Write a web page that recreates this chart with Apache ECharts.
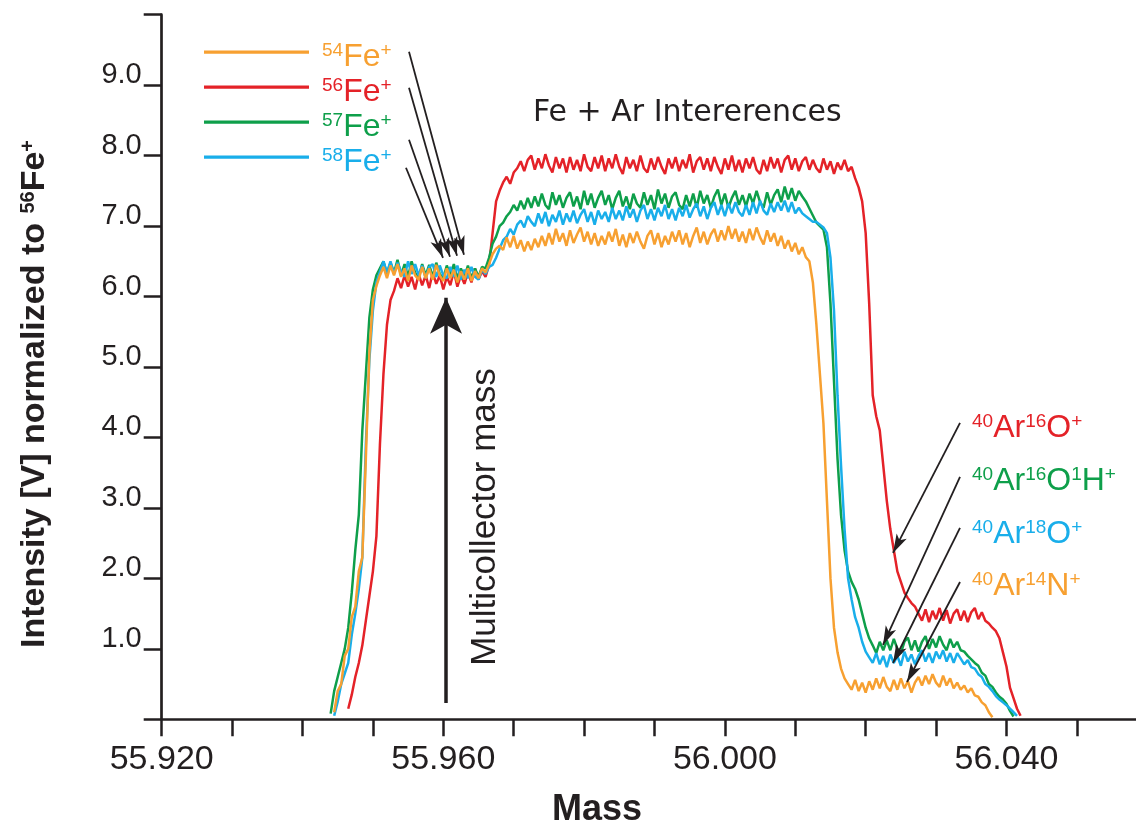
<!DOCTYPE html>
<html>
<head>
<meta charset="utf-8">
<script src="https://cdn.jsdelivr.net/npm/echarts@6/dist/echarts.min.js"></script>
<style>html,body{margin:0;padding:0;background:#fff}#chart{width:1136px;height:827px}</style>
</head>
<body>
<div id="chart"></div>
<script>
// ---- data (mass grid: start + step * index) ----
const massStart = 55.943;
const massStep = 0.0005;

const fe54 = [
 null,null,null,0.1,0.4,0.5,0.9,1.0,1.45,1.6,
 2.1,2.3,3.7,5.2,5.95,6.15,6.3,6.42,6.26,6.44,
 6.3,6.46,6.28,6.4,6.22,6.44,6.3,6.24,6.42,6.26,
 6.4,6.24,6.45,6.3,6.22,6.4,6.26,6.38,6.2,6.36,
 6.24,6.4,6.22,6.36,6.26,6.4,6.34,6.46,6.6,6.68,
 6.72,6.66,6.84,6.7,6.86,6.68,6.8,6.64,6.78,6.66,
 6.82,6.7,6.86,6.72,6.9,6.74,6.96,6.78,6.9,6.72,
 6.94,6.76,6.88,6.98,6.78,6.92,6.74,6.9,6.72,6.86,
 6.74,6.92,6.78,6.96,6.72,6.88,6.7,6.9,6.76,6.92,
 6.78,6.68,6.86,6.94,6.74,6.9,6.7,6.86,6.74,6.92,
 6.78,6.94,6.74,6.9,6.7,6.86,6.98,6.76,6.92,6.74,
 6.88,6.96,6.78,6.94,6.8,7.0,6.82,6.96,6.78,6.92,
 6.76,6.96,6.8,6.98,6.84,6.74,6.94,6.78,6.9,6.72,
 6.86,6.68,6.8,6.64,6.76,6.6,6.7,6.56,6.5,6.2,
 5.6,4.9,4.2,3.1,2.0,1.3,0.95,0.72,0.58,0.5,
 0.42,0.56,0.4,0.52,0.38,0.54,0.42,0.58,0.44,0.6,
 0.46,0.4,0.56,0.42,0.58,0.44,0.54,0.38,0.52,0.6,
 0.48,0.62,0.5,0.64,0.52,0.46,0.62,0.48,0.58,0.44,
 0.52,0.42,0.48,0.38,0.44,0.34,0.32,0.24,0.2,0.1,
 0.03,null,null,null,null,null,null,null,null,null,null
];

const fe56 = [
 null,null,null,null,null,null,null,0.15,0.35,0.6,
 0.8,1.05,1.4,1.75,2.1,2.6,3.9,4.9,5.6,5.95,
 6.08,6.26,6.12,6.3,6.14,6.28,6.1,6.32,6.16,6.3,
 6.12,6.34,6.18,6.3,6.1,6.28,6.16,6.36,6.14,6.3,
 6.18,6.34,6.2,6.4,6.24,6.36,6.28,6.45,6.9,7.35,
 7.5,7.62,7.7,7.6,7.76,7.82,7.92,7.78,7.94,8.0,
 7.8,7.96,7.82,8.02,7.86,7.76,7.98,7.82,7.96,7.76,
 7.98,7.8,7.94,7.78,8.02,7.84,7.78,7.98,7.82,8.0,
 7.78,7.96,7.82,8.02,7.84,7.74,7.98,7.82,7.94,7.78,
 8.0,7.82,7.76,7.96,7.8,7.98,7.84,7.74,7.96,7.82,
 7.98,7.78,7.94,7.82,8.02,7.76,7.92,7.98,7.8,7.96,
 7.78,7.98,7.84,7.74,7.96,7.8,8.0,7.78,7.94,7.76,
 7.96,7.82,7.98,7.8,7.74,7.94,7.78,7.98,7.82,7.96,
 7.76,7.94,8.0,7.8,7.96,7.78,7.92,7.98,7.8,7.94,
 7.82,7.76,7.96,7.8,7.92,7.74,7.9,7.8,7.94,7.78,
 7.84,7.68,7.55,7.35,6.9,5.9,4.6,4.3,4.1,3.6,
 3.1,2.7,2.4,2.1,1.95,1.8,1.72,1.65,1.6,1.5,
 1.4,1.56,1.38,1.54,1.42,1.58,1.4,1.55,1.36,1.5,
 1.56,1.4,1.54,1.38,1.52,1.58,1.42,1.52,1.4,1.36,
 1.3,1.25,1.15,0.95,0.75,0.45,0.3,0.15,0.05,null,null
];

const fe57 = [
 null,null,0.08,0.4,0.6,0.8,1.0,1.3,1.8,2.4,
 2.9,4.1,4.9,5.7,6.1,6.3,6.4,6.5,6.32,6.48,
 6.34,6.52,6.3,6.46,6.28,6.5,6.34,6.26,6.46,6.3,
 6.45,6.28,6.48,6.32,6.26,6.44,6.3,6.46,6.26,6.4,
 6.28,6.44,6.26,6.4,6.28,6.42,6.4,6.55,6.75,6.85,
 7.0,7.05,7.14,7.2,7.3,7.22,7.36,7.24,7.4,7.26,
 7.42,7.28,7.46,7.3,7.24,7.48,7.3,7.44,7.26,7.4,
 7.48,7.28,7.42,7.24,7.5,7.3,7.46,7.26,7.4,7.5,
 7.3,7.44,7.24,7.4,7.5,7.28,7.42,7.24,7.46,7.32,
 7.26,7.48,7.3,7.44,7.24,7.52,7.32,7.46,7.26,7.42,
 7.48,7.3,7.24,7.44,7.28,7.46,7.26,7.5,7.32,7.44,
 7.26,7.42,7.52,7.3,7.46,7.26,7.4,7.5,7.3,7.44,
 7.28,7.46,7.32,7.5,7.34,7.26,7.48,7.3,7.44,7.52,
 7.34,7.56,7.38,7.54,7.36,7.5,7.42,7.35,7.25,7.15,
 7.05,7.0,6.95,6.7,5.9,4.8,3.7,2.9,2.4,2.1,
 1.95,1.85,1.7,1.5,1.3,1.15,1.05,0.94,1.1,0.98,
 1.12,0.98,1.14,1.0,0.94,1.1,1.16,0.98,1.12,0.96,
 1.1,1.18,1.0,1.14,1.02,1.18,1.06,0.98,1.14,1.02,
 1.1,0.98,0.96,0.9,0.85,0.8,0.76,0.66,0.62,0.5,
 0.46,0.38,0.32,0.28,0.22,0.12,0.04,null,null,null,null
];

const fe58 = [
 null,null,null,0.05,0.25,0.5,0.65,0.8,1.2,1.5,
 1.85,2.3,3.9,5.1,5.8,6.2,6.35,6.5,6.34,6.5,
 6.32,6.48,6.36,6.28,6.5,6.32,6.46,6.3,6.44,6.26,
 6.42,6.46,6.28,6.44,6.3,6.26,6.42,6.28,6.44,6.24,
 6.38,6.26,6.42,6.28,6.24,6.38,6.32,6.42,6.45,6.55,
 6.68,6.8,6.85,6.96,6.88,7.02,7.08,6.98,7.14,7.06,
 7.0,7.18,7.04,7.2,7.0,7.16,7.06,7.22,7.02,7.18,
 7.06,7.22,7.04,7.16,7.24,7.06,7.2,7.02,7.22,7.1,
 7.2,7.06,7.26,7.1,7.22,7.08,7.28,7.12,7.24,7.06,
 7.22,7.3,7.1,7.24,7.08,7.26,7.14,7.3,7.1,7.24,
 7.08,7.26,7.14,7.3,7.12,7.24,7.32,7.14,7.28,7.1,
 7.26,7.34,7.16,7.3,7.14,7.32,7.18,7.34,7.2,7.14,
 7.3,7.16,7.34,7.18,7.36,7.22,7.16,7.32,7.2,7.34,
 7.22,7.36,7.2,7.34,7.18,7.26,7.18,7.14,7.1,7.06,
 7.06,7.02,6.98,6.9,6.55,5.8,4.6,3.6,2.7,2.0,
 1.7,1.45,1.3,1.1,0.96,0.88,0.8,0.94,0.78,0.9,
 0.74,0.92,0.8,0.9,0.76,0.96,0.82,0.92,0.78,0.9,
 0.98,0.82,0.94,0.8,0.96,0.86,0.98,0.82,0.94,0.8,
 0.94,0.86,0.78,0.84,0.74,0.72,0.64,0.6,0.5,0.46,
 0.4,0.33,0.28,0.24,0.2,0.15,0.1,0.05,null,null,null
];

const isotopes = ['54', '56', '57', '58'];
const seriesNames = ['54Fe+', '56Fe+', '57Fe+', '58Fe+'];
const xTickValues = [55.92,55.93,55.94,55.95,55.96,55.97,55.98,55.99,56.00,56.01,56.02,56.03,56.04,56.05];
const xLabelValues = [55.92, 55.96, 56.00, 56.04];
const yTickValues = [0,1,2,3,4,5,6,7,8,9,10];
const yLabelValues = [1,2,3,4,5,6,7,8,9];

// annotation arrows [massFrom, intensityFrom, massTo(tip), intensityTo(tip)]
const feArrows = [
  [55.95513, 9.475, 55.96294, 6.592],
  [55.95513, 8.964, 55.96195, 6.578],
  [55.95513, 8.225, 55.96095, 6.564],
  [55.95470, 7.828, 55.95996, 6.550]
];
const arArrows = [
  [56.03340, 4.207, 56.02388, 2.361],
  [56.03340, 3.440, 56.02246, 1.055],
  [56.03340, 2.716, 56.02388, 0.799],
  [56.03340, 1.949, 56.02587, 0.530]
];
const collectorArrow = [55.96039, 0.231, 55.96039, 5.982];

// ---- styling ----
const COLORS = ['#F7A031', '#E42228', '#0E9F4A', '#19AEEA'];
const INK = '#231f20';
const FONT = '"Liberation Sans", Arial, Helvetica, sans-serif';

function toPairs(arr) {
  const out = [];
  arr.forEach((v, i) => { if (v !== null) out.push([+(massStart + i * massStep).toFixed(4), v]); });
  return out;
}

const legendRich = {};
const richKeys = ['a', 'b', 'c', 'd'];
richKeys.forEach((k, i) => {
  legendRich[k + 's'] = { fontSize: 19, lineHeight: 19, verticalAlign: 'top', color: COLORS[i], fontFamily: FONT };
  legendRich[k + 'm'] = { fontSize: 32, lineHeight: 32, color: COLORS[i], fontFamily: FONT };
});

const chart = echarts.init(document.getElementById('chart'), null, { renderer: 'canvas' });

const drawOrder = [1, 2, 3, 0];
const seriesData = [fe54, fe56, fe57, fe58];
const lineSeries = drawOrder.map(i => ({
  type: 'line',
  name: seriesNames[i],
  data: toPairs(seriesData[i]),
  showSymbol: false,
  symbol: 'none',
  color: COLORS[i],
  lineStyle: { color: COLORS[i], width: 2.5 },
  itemStyle: { color: COLORS[i] },
  emphasis: { disabled: true },
  silent: true,
  z: 2
}));

function arrowItems(list, width, size) {
  return list.map(a => [
    { coord: [a[0], a[1]], symbol: 'none', lineStyle: { width: width, color: INK } },
    { coord: [a[2], a[3]], symbol: 'arrow', symbolSize: size, lineStyle: { width: width, color: INK } }
  ]);
}

const annotationSeries = {
  type: 'line',
  name: 'annotations',
  data: [],
  silent: true,
  z: 5,
  markLine: {
    silent: true,
    animation: false,
    symbol: ['none', 'arrow'],
    label: { show: false },
    emphasis: { disabled: true },
    lineStyle: { color: INK, width: 1.7, type: 'solid' },
    data: [].concat(
      arrowItems(feArrows, 1.8, [8.5, 19]),
      arrowItems(arArrows, 1.8, [8.5, 19]),
      arrowItems([collectorArrow], 3.5, [24, 36])
    )
  }
};

function supText(parts) {
  return parts.map(p => '{' + p[0] + '|' + p[1] + '}').join('');
}

function annotationText(y, color, parts) {
  return {
    type: 'text',
    x: 972, y: y,
    silent: true,
    style: {
      text: supText(parts),
      fill: color,
      align: 'left',
      verticalAlign: 'middle',
      fontFamily: FONT,
      fontSize: 32,
      lineHeight: 32,
      rich: {
        s: { fontSize: 19, lineHeight: 19, verticalAlign: 'top', fill: color, fontFamily: FONT },
        m: { fontSize: 32, lineHeight: 32, fill: color, fontFamily: FONT }
      }
    }
  };
}

const option = {
  animation: false,
  backgroundColor: '#ffffff',
  grid: { left: 161.7, right: 0, top: 14.7, bottom: 107.7, containLabel: false, outerBoundsMode: 'none' },
  xAxis: {
    type: 'value',
    min: 55.92,
    max: 56.0584,
    interval: 0.01,
    axisLine: { show: true, onZero: false, lineStyle: { color: INK, width: 2.7 } },
    axisTick: { show: true, length: 17, inside: false, customValues: xTickValues, lineStyle: { color: INK, width: 2.5 } },
    splitLine: { show: false },
    axisLabel: {
      customValues: xLabelValues,
      margin: 23,
      fontSize: 34,
      lineHeight: 34,
      fontFamily: FONT,
      color: INK,
      formatter: v => {
        const k = (v - 55.92) / 0.04;
        return Math.abs(k - Math.round(k)) < 1e-6 ? v.toFixed(3) : '';
      }
    }
  },
  yAxis: {
    type: 'value',
    min: 0,
    max: 10,
    interval: 1,
    axisLine: { show: true, onZero: false, lineStyle: { color: INK, width: 2.7 } },
    axisTick: { show: true, length: 18, inside: false, customValues: yTickValues, lineStyle: { color: INK, width: 2.5 } },
    splitLine: { show: false },
    axisLabel: {
      customValues: yLabelValues,
      margin: 20,
      fontSize: 29,
      lineHeight: 20,
      fontFamily: FONT,
      color: INK,
      verticalAlign: 'bottom',
      formatter: v => (v > 0 && v < 10) ? v.toFixed(1) : ''
    }
  },
  legend: {
    orient: 'vertical',
    left: 199,
    top: 26.2,
    itemWidth: 105,
    itemHeight: 3.3,
    itemGap: -7,
    icon: 'rect',
    selectedMode: false,
    data: seriesNames,
    formatter: name => {
      const i = seriesNames.indexOf(name);
      const k = richKeys[i];
      return '{' + k + 's|' + isotopes[i] + '}{' + k + 'm|Fe}{' + k + 's|+}';
    },
    textStyle: {
      fontSize: 32,
      lineHeight: 32,
      fontFamily: FONT,
      padding: [10, 0, 0, 8],
      rich: legendRich
    }
  },
  graphic: [
    {
      type: 'text', x: 533, y: 113, silent: true,
      style: { text: 'Fe + Ar Intererences', fill: INK, fontFamily: '"DejaVu Sans", sans-serif', fontSize: 30, align: 'left', verticalAlign: 'middle' }
    },
    {
      type: 'text', x: 485, y: 517, rotation: Math.PI / 2, silent: true,
      style: { text: 'Multicollector mass', fill: INK, fontFamily: FONT, fontSize: 35, align: 'center', verticalAlign: 'middle' }
    },
    {
      type: 'text', x: 597, y: 810, silent: true,
      style: { text: 'Mass', fill: INK, fontFamily: FONT, fontWeight: 'bold', fontSize: 36, align: 'center', verticalAlign: 'middle' }
    },
    {
      type: 'text', x: 35, y: 394, rotation: Math.PI / 2, silent: true,
      style: {
        text: 'Intensity [V] normalized to {s|56}Fe{s|+}',
        fill: INK, fontFamily: FONT, fontWeight: 'bold', fontSize: 34, lineHeight: 34,
        align: 'center', verticalAlign: 'middle',
        rich: { s: { fontSize: 20, lineHeight: 20, verticalAlign: 'top', fontWeight: 'bold', fill: INK, fontFamily: FONT } }
      }
    },
    annotationText(428, COLORS[1], [['s','40'],['m','Ar'],['s','16'],['m','O'],['s','+']]),
    annotationText(481, COLORS[2], [['s','40'],['m','Ar'],['s','16'],['m','O'],['s','1'],['m','H'],['s','+']]),
    annotationText(534, COLORS[3], [['s','40'],['m','Ar'],['s','18'],['m','O'],['s','+']]),
    annotationText(586, COLORS[0], [['s','40'],['m','Ar'],['s','14'],['m','N'],['s','+']])
  ],
  series: lineSeries.concat([annotationSeries])
};

chart.setOption(option);
</script>
</body>
</html>
